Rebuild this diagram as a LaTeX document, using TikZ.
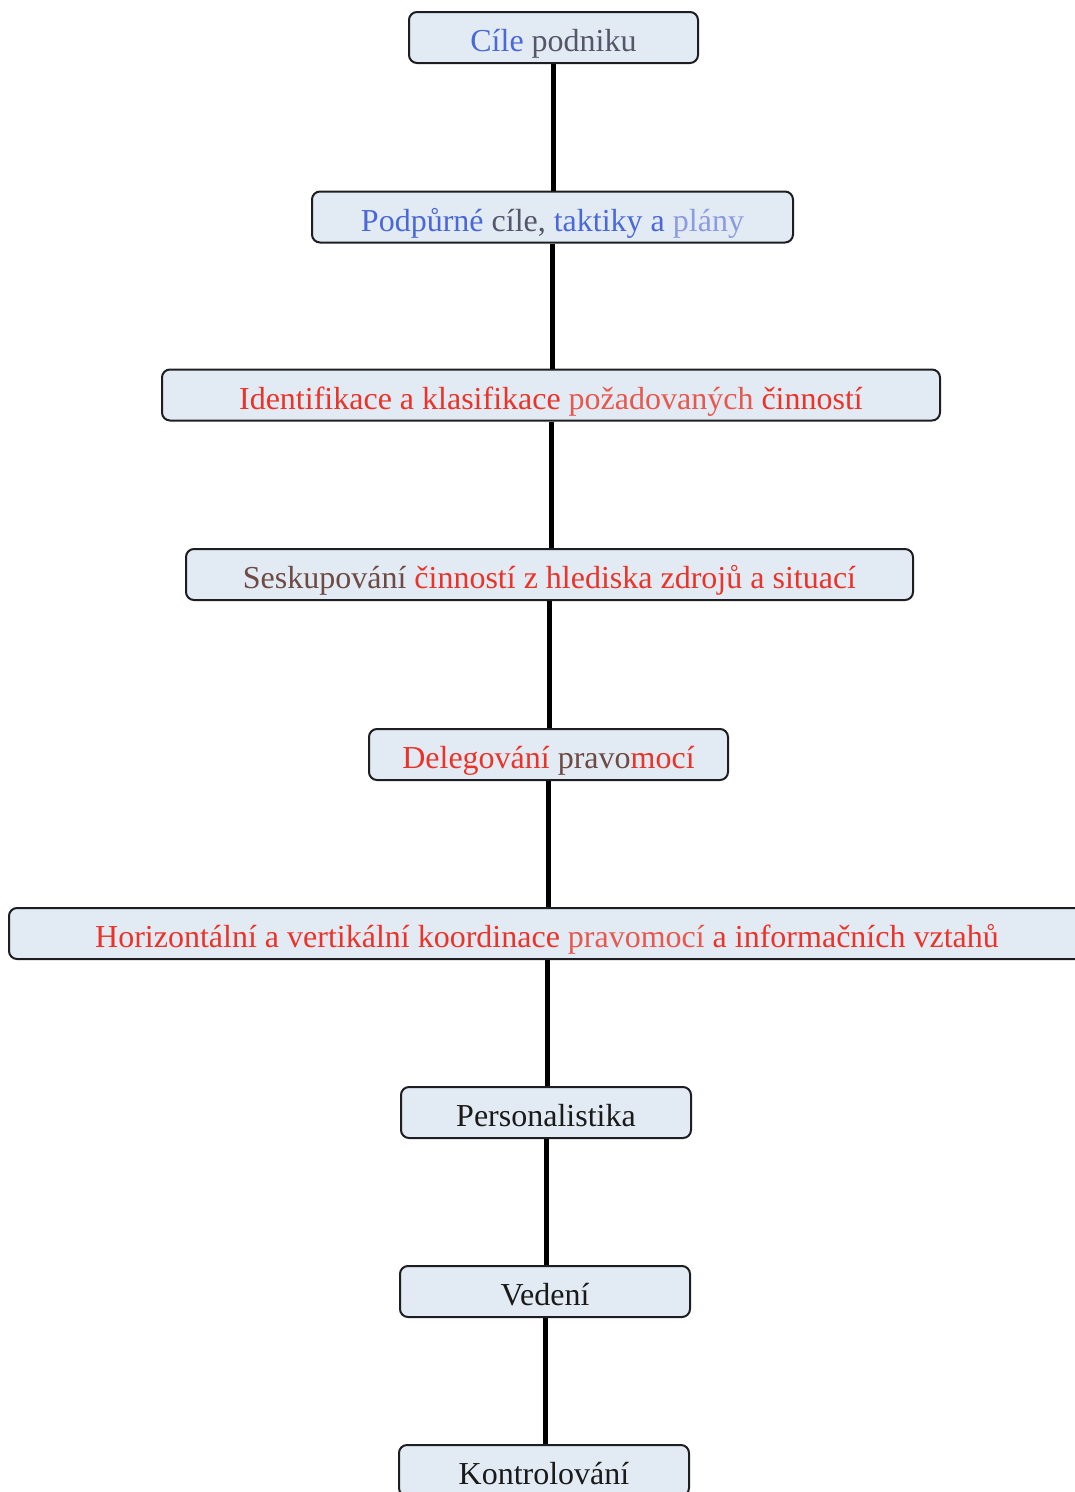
\documentclass[tikz,border=0pt]{standalone}
\usepackage{fontspec}
\setmainfont{Liberation Serif}
\definecolor{boxfill}{HTML}{E2EBF3}
\definecolor{boxline}{HTML}{1E1E22}
\definecolor{tblue}{HTML}{4A68D8}
\definecolor{tpale}{HTML}{8B9BE2}
\definecolor{tgray}{HTML}{55566A}
\definecolor{tred}{HTML}{EC3329}
\definecolor{tredl}{HTML}{E8584E}
\definecolor{tbrown}{HTML}{6E4A44}
\definecolor{tdark}{HTML}{1A1A1A}
\tikzset{
  stepbox/.style={draw=boxline, fill=boxfill, line width=2pt, rounded corners=8pt,
    minimum height=51pt, inner sep=0pt, anchor=center,
    text height=28pt, text depth=0pt,
    font=\fontsize{32}{38}\selectfont},
  link/.style={line width=5pt, draw=black}
}
\begin{document}
\begin{tikzpicture}[x=1pt,y=-1pt]
\useasboundingbox (0,0) rectangle (1075,1492);

\node[stepbox, minimum width=289pt] (cile) at (553.5,37.5)
  {\textcolor{tblue}{Cíle} \textcolor{tgray}{podniku}};
\node[stepbox, minimum width=481pt] (podp) at (552.5,217)
  {\textcolor{tblue}{Podpůrné} \textcolor{tgray}{cíle,} \textcolor{tblue}{taktiky a} \textcolor{tpale}{plány}};
\node[stepbox, minimum width=778pt] (ident) at (551,395)
  {\textcolor{tred}{Identifikace a klasifikace} \textcolor{tredl}{požadovaných} \textcolor{tred}{činností}};
\node[stepbox, minimum width=727pt] (sesk) at (549.5,574.5)
  {\textcolor{tbrown}{Seskupování} \textcolor{tred}{činností z hlediska zdrojů a situací}};
\node[stepbox, minimum width=359pt] (deleg) at (548.5,754.5)
  {\textcolor{tred}{Delegování} \textcolor{tbrown}{pravo}\textcolor{tred}{mocí}};
\node[stepbox, minimum width=1076pt] (horiz) at (547,933.5)
  {\textcolor{tred}{Horizontální a vertikální koordinace} \textcolor{tredl}{pravomocí} \textcolor{tred}{a informačních vztahů}};
\node[stepbox, minimum width=290pt] (pers) at (546,1112.5)
  {\textcolor{tdark}{Personalistika}};
\node[stepbox, minimum width=290pt] (ved) at (545,1291.5)
  {\textcolor{tdark}{Vedení}};
\node[stepbox, minimum width=290pt] (kontr) at (544,1470.5)
  {\textcolor{tdark}{Kontrolování}};

\draw[link] (cile.south) -- (cile.south |- podp.north);
\draw[link] (podp.south) -- (podp.south |- ident.north);
\draw[link] (ident.south) -- (ident.south |- sesk.north);
\draw[link] (sesk.south) -- (sesk.south |- deleg.north);
\draw[link] (deleg.south) -- (deleg.south |- horiz.north);
\draw[link] (horiz.south) -- (horiz.south |- pers.north);
\draw[link] (pers.south) -- (pers.south |- ved.north);
\draw[link] (ved.south) -- (ved.south |- kontr.north);
\end{tikzpicture}
\end{document}
